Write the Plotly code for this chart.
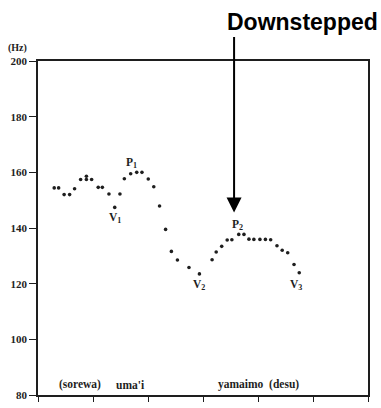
import plotly.graph_objects as go

# time (s) and F0 (Hz) read from the pitch track
time_s = [0.059, 0.075, 0.095, 0.115, 0.133, 0.155, 0.176, 0.176, 0.195, 0.219,
          0.234, 0.258, 0.279, 0.298, 0.314, 0.337, 0.359, 0.378, 0.401, 0.421,
          0.442, 0.464, 0.485, 0.507, 0.549, 0.587, 0.633, 0.648, 0.668, 0.688,
          0.705, 0.730, 0.749, 0.767, 0.785, 0.807, 0.827, 0.846, 0.869, 0.888,
          0.908, 0.931, 0.950]
f0_hz = [154.4, 154.4, 152.0, 152.0, 154.1, 157.4, 158.6, 157.4, 157.4, 154.6,
         154.6, 152.2, 147.4, 152.2, 157.7, 159.5, 160.0, 160.0, 157.6, 154.8,
         147.9, 139.5, 131.6, 128.5, 125.8, 123.5, 128.6, 131.4, 133.4, 135.7,
         135.8, 137.7, 137.7, 136.0, 135.9, 135.9, 135.9, 135.8, 133.6, 132.0,
         131.1, 126.9, 123.9]

# point labels (peaks / valleys)
pt_labels = ["V<sub>1</sub>", "P<sub>1</sub>", "V<sub>2</sub>", "P<sub>2</sub>", "V<sub>3</sub>"]
pt_label_x = [0.280, 0.341, 0.587, 0.725, 0.938]
pt_label_y = [143.6, 163.3, 119.4, 141.0, 119.5]

# word labels
words = ["(sorewa)", "uma'i", "yamaimo&nbsp;&nbsp;(desu)"]
word_x = [0.153, 0.335, 0.800]
word_y = [83.6, 83.6, 83.9]

y_ticks = [80, 100, 120, 140, 160, 180, 200]
x_ticks = [0, 0.2, 0.4, 0.6, 0.8, 1.0, 1.2]

arrow_x = 0.713
arrow_y = 145.6

serif = "Liberation Serif, Times New Roman, serif"
ink = "#1e1e1e"

fig = go.Figure()
fig.add_trace(go.Scatter(
    x=time_s, y=f0_hz, mode="markers",
    marker=dict(size=3.6, color=ink),
    hoverinfo="skip", showlegend=False, cliponaxis=False,
))

annotations = []
for t, x, y in zip(pt_labels, pt_label_x, pt_label_y):
    annotations.append(dict(x=x, y=y, xref="x", yref="y", text="<b>" + t + "</b>",
                            showarrow=False, font=dict(family=serif, size=11.5, color=ink)))
for t, x, y in zip(words, word_x, word_y):
    annotations.append(dict(x=x, y=y, xref="x", yref="y", text="<b>" + t + "</b>",
                            showarrow=False, font=dict(family=serif, size=11.5, color=ink)))

# (Hz) unit label
annotations.append(dict(x=-0.062, y=1.038, xref="paper", yref="paper", text="<b>(Hz)</b>",
                        showarrow=False, xanchor="center", yanchor="middle",
                        font=dict(family=serif, size=10, color=ink)))

# Downstepped title + arrow
annotations.append(dict(x=0.803, y=1.1176, xref="paper", yref="paper", text="<b>Downstepped</b>",
                        showarrow=False, xanchor="center", yanchor="middle",
                        font=dict(family="Liberation Sans, Arial, sans-serif", size=23, color="black")))
annotations.append(dict(x=arrow_x, y=arrow_y, xref="x", yref="y", text="",
                        showarrow=True, ax=0, ay=-177, axref="pixel", ayref="pixel",
                        arrowhead=2, arrowsize=1.5, arrowwidth=2, arrowcolor="black",
                        standoff=0))

fig.update_layout(
    width=381, height=408,
    margin=dict(l=38, r=13, t=61, b=7),
    paper_bgcolor="white", plot_bgcolor="white",
    annotations=annotations,
    xaxis=dict(range=[0, 1.2], tickvals=x_ticks, showticklabels=False,
               ticks="outside", ticklen=5, tickwidth=1.3, tickcolor=ink,
               showline=True, linecolor=ink, linewidth=1.6, mirror=True,
               showgrid=False, zeroline=False, fixedrange=True),
    yaxis=dict(range=[80, 200], tickvals=y_ticks, ticktext=[str(v) for v in y_ticks],
               ticks="outside", ticklen=7, tickwidth=1.3, tickcolor=ink,
               tickfont=dict(family=serif, size=11, color=ink, weight="bold"),
               showline=True, linecolor=ink, linewidth=1.6, mirror=True,
               showgrid=False, zeroline=False, fixedrange=True),
)

fig.write_html("out.html", config={"displayModeBar": False})
